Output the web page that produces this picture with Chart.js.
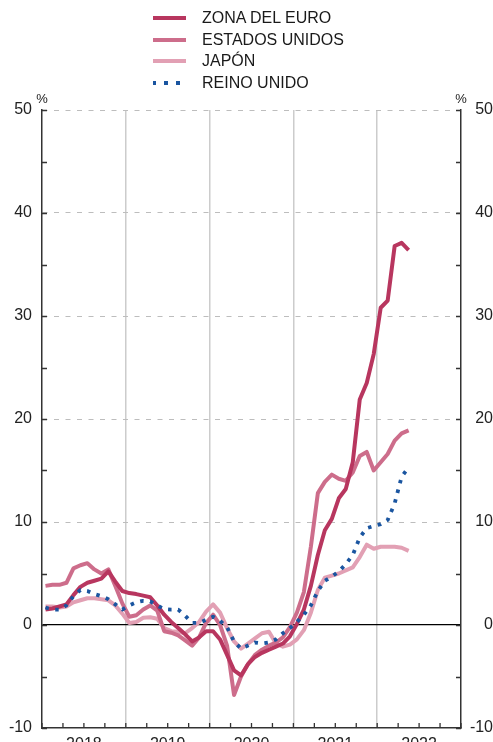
<!DOCTYPE html>
<html lang="es">
<head>
<meta charset="utf-8">
<script src="https://cdn.jsdelivr.net/npm/chart.js@4.4.1/dist/chart.umd.min.js"></script>
<style>
  html, body { margin: 0; padding: 0; background: #fff; }
  #wrap { position: relative; width: 493px; height: 742px; }
  #legend {
    position: absolute; left: 153px; top: 7px;
    font-family: "Liberation Sans", Arial, sans-serif; font-size: 16px; color: #1a1a1a;
  }
  .item { display: flex; align-items: center; height: 21.7px; }
  .swatch { width: 33px; height: 4px; margin-right: 16px; }
</style>
</head>
<body>
<div id="wrap">
  <canvas id="chart" width="493" height="742"></canvas>
  <div id="legend"></div>
</div>
<script>
// Datos mensuales, ene 2018 - may 2022
const years = ['2018', '2019', '2020', '2021', '2022'];
const seriesNames = ['ZONA DEL EURO', 'ESTADOS UNIDOS', 'JAPÓN', 'REINO UNIDO'];

const euroZone = [
  1.5, 1.6, 1.8, 2.0, 2.9, 3.7, 4.1, 4.3, 4.5, 5.2, 4.2, 3.3,
  3.1, 3.0, 2.85, 2.7, 1.9, 1.0, 0.3, -0.3, -0.9, -1.6, -1.2, -0.6,
  -0.6, -1.4, -2.9, -4.4, -4.9, -3.8, -3.1, -2.7, -2.4, -2.1, -1.8, -1.1,
  0.1, 1.5, 3.8, 6.8, 9.2, 10.3, 12.3, 13.2, 15.8, 21.9, 23.5, 26.3,
  30.8, 31.5, 36.8, 37.1, 36.4
];
const unitedStates = [
  3.8, 3.9, 3.9, 4.1, 5.5, 5.8, 6.0, 5.4, 5.0, 5.4, 3.8, 2.1,
  0.8, 0.95, 1.5, 1.9, 1.4, -0.6, -0.75, -1.0, -1.5, -2.0, -1.2, 0.2,
  1.0, 0.0, -2.0, -6.8, -5.0, -3.8, -2.9, -2.4, -2.0, -1.7, -1.2, -0.2,
  1.2, 3.2, 7.6, 12.8, 13.9, 14.6, 14.2, 14.0, 14.8, 16.4, 16.8, 15.0,
  15.8, 16.6, 17.9, 18.6, 18.9
];
const japan = [
  1.8, 1.8, 1.7, 1.8, 2.2, 2.4, 2.6, 2.6, 2.5, 2.4, 1.9, 1.1,
  0.2, 0.3, 0.7, 0.75, 0.6, -0.3, -0.6, -0.65, -0.8, -0.3, 0.3, 1.3,
  2.0, 1.2, -0.3, -1.6, -2.3, -1.8, -1.3, -0.8, -0.65, -1.8, -2.1, -1.9,
  -1.4, -0.5, 1.2, 3.4, 4.6, 4.8, 5.0, 5.3, 5.6, 6.6, 7.8, 7.4,
  7.6, 7.6, 7.6, 7.5, 7.2
];
const unitedKingdom = [
  1.7, 1.5, 1.5, 1.9, 2.8, 3.4, 3.3, 3.0, 2.8, 2.5, 2.0, 1.5,
  1.9, 2.2, 2.35, 2.3, 1.9, 1.55, 1.5, 1.5, 0.9, 0.2, 0.2, 0.5,
  0.8, 0.4, -0.2, -1.6, -2.3, -2.0, -1.7, -1.8, -1.7, -1.4, -0.8, -0.3,
  0.3, 1.0, 1.9, 3.3, 4.3, 4.7, 5.2, 5.9, 6.8, 8.5, 9.4, 9.6,
  9.8, 10.2, 11.8, 14.4, 15.3
];

const colors = ['#b8365f', '#cd6d8b', '#e2a0b4', '#1a55a0'];
const FONT = '"Liberation Sans", Arial, sans-serif';

function toPoints(values) {
  // cada mes se sitúa en el centro de su intervalo
  return values.map((v, i) => ({ x: i + 0.5, y: v }));
}

const allSeries = [euroZone, unitedStates, japan, unitedKingdom];
const datasets = allSeries.map((values, k) => ({
  label: seriesNames[k],
  data: toPoints(values),
  borderColor: colors[k],
  borderWidth: k === 3 ? 3.8 : 4,
  borderDash: k === 3 ? [3.5, 6.5] : [],
  borderCapStyle: 'butt',
  borderJoinStyle: 'round',
  pointRadius: 0,
  tension: 0,
  fill: false,
  order: k === 3 ? -1 : k
}));

// marcas interiores y símbolo %
const innerTicks = {
  id: 'innerTicks',
  afterDraw(chart) {
    const { ctx, chartArea: a, scales: { x, y } } = chart;
    ctx.save();
    ctx.strokeStyle = '#333';
    ctx.lineWidth = 1.3;
    ctx.beginPath();
    y.ticks.forEach(t => {
      const py = Math.round(y.getPixelForValue(t.value)) + 0.5;
      ctx.moveTo(a.left, py); ctx.lineTo(a.left + 5, py);
      ctx.moveTo(a.right, py); ctx.lineTo(a.right - 5, py);
    });
    x.ticks.forEach(t => {
      const px = x.getPixelForValue(t.value);
      ctx.moveTo(px, a.bottom); ctx.lineTo(px, a.bottom - 5);
    });
    ctx.stroke();
    ctx.fillStyle = '#222';
    ctx.font = '13px ' + FONT;
    ctx.textAlign = 'center';
    ctx.textBaseline = 'alphabetic';
    ctx.fillText('%', a.left, a.top - 7);
    ctx.fillText('%', a.right, a.top - 7);
    ctx.restore();
  }
};

const yTickLabel = v => (v % 10 === 0 ? v : '');

new Chart(document.getElementById('chart'), {
  type: 'line',
  data: { datasets },
  plugins: [innerTicks],
  options: {
    responsive: false,
    animation: false,
    layout: { padding: { top: 110, left: 0, right: 0, bottom: 0 } },
    plugins: { legend: { display: false }, tooltip: { enabled: false } },
    scales: {
      x: {
        type: 'linear',
        min: 0,
        max: 60,
        afterFit: s => { s.height = 14; },
        ticks: {
          stepSize: 3,
          autoSkip: false,
          maxRotation: 0,
          padding: 7,
          color: '#222',
          font: { family: FONT, size: 16 },
          callback: v => (v % 12 === 6 ? years[(v - 6) / 12] : '')
        },
        grid: {
          drawTicks: false,
          lineWidth: 1.5,
          color: c => (c.tick && c.tick.value % 12 === 0 && c.tick.value > 0 && c.tick.value < 60) ? '#cccccc' : 'transparent'
        },
        border: { color: '#333', width: 1.5 }
      },
      y: {
        position: 'left',
        min: -10,
        max: 50,
        afterFit: s => { s.width = 42; },
        ticks: {
          stepSize: 5,
          padding: 0,
          color: '#222',
          font: { family: FONT, size: 16 },
          callback: yTickLabel
        },
        grid: {
          drawTicks: true,
          tickLength: 10,
          tickColor: 'transparent',
          lineWidth: c => (c.tick && c.tick.value === 0 ? 1.2 : 1),
          color: c => {
            if (!c.tick) return 'transparent';
            const v = c.tick.value;
            if (v === 0) return '#000';
            if (v % 10 === 0 && v > -10) return '#bdbdbd';
            return 'transparent';
          }
        },
        border: {
          color: '#333',
          width: 1.5,
          dash: c => (c.tick && c.tick.value !== 0 ? [5, 6.5] : [])
        }
      },
      y2: {
        position: 'right',
        min: -10,
        max: 50,
        afterFit: s => { s.width = 32; },
        ticks: {
          stepSize: 5,
          padding: 0,
          crossAlign: 'far',
          color: '#222',
          font: { family: FONT, size: 16 },
          callback: yTickLabel
        },
        grid: { drawOnChartArea: false, drawTicks: false },
        border: { color: '#333', width: 1.5 }
      }
    }
  }
});

// leyenda en columna
const legend = document.getElementById('legend');
datasets.forEach((d, k) => {
  const row = document.createElement('div');
  row.className = 'item';
  const sw = document.createElement('span');
  sw.className = 'swatch';
  sw.style.background = k === 3
    ? `repeating-linear-gradient(to right, ${d.borderColor} 0 3.5px, transparent 3.5px 11.5px)`
    : d.borderColor;
  row.appendChild(sw);
  row.appendChild(document.createTextNode(d.label));
  legend.appendChild(row);
});
</script>
</body>
</html>
